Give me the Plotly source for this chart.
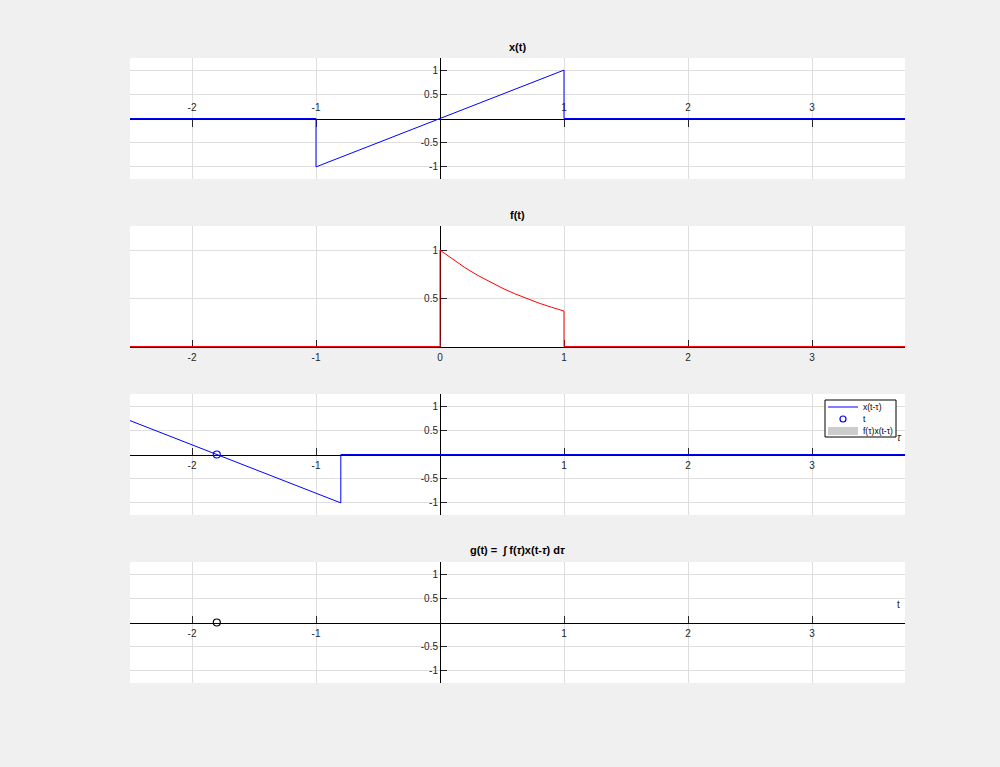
import plotly.graph_objects as go

# ---- data ----
t_x = [-2.5, -1.0, -1.0, 1.0, 1.0, 3.75]
x_vals = [0, 0, -1, 1, 0, 0]

t_f = [-2.5, 0.0, 0.0, 0.1, 0.2, 0.3, 0.4, 0.5, 0.6, 0.7, 0.8, 0.9, 1.0, 1.0, 3.75]
f_vals = [0, 0, 1.0, 0.905, 0.819, 0.741, 0.670, 0.607, 0.549, 0.497, 0.449, 0.407, 0.368, 0, 0]

t_now = -1.8
tau_shift = [-2.5, -0.8, -0.8, 3.75]
x_shift_vals = [0.7, -1.0, 0, 0]
prod_tau = [-2.5, -0.8, 0.0, 1.0, 3.75]
prod_vals = [0, 0, 0, 0, 0]
g_t = []
g_vals = []

x_ticks = [-2, -1, 1, 2, 3]
x_ticks_f = [-2, -1, 0, 1, 2, 3]
y_ticks = [-1, -0.5, 0.5, 1]
y_ticks_f = [0.5, 1]

legend_labels = ["x(t-τ)", "t", "f(τ)x(t-τ)"]

# ---- layout geometry ----
W, H = 1000, 767
XL, XR = 130, 905
xrange_ = [-2.5, 3.75]
panels = [(58, 179), (226, 347), (394, 515), (562, 683)]
yranges = [[-1.25, 1.25], [-0.005, 1.25], [-1.25, 1.25], [-1.25, 1.25]]

font = "Liberation Sans, Arial, Helvetica, sans-serif"
txt = "#262626"
grid = "#dedede"

fig = go.Figure()

def py(p):
    return 1 - p / H

def px(p):
    return p / W

x0_paper = (XL + (0 - xrange_[0]) / (xrange_[1] - xrange_[0]) * (XR - XL)) / W

layout = dict(
    width=W, height=H, margin=dict(l=0, r=0, t=0, b=0),
    paper_bgcolor="#f0f0f0", plot_bgcolor="white",
    font=dict(family=font, size=10, color=txt),
    showlegend=False,
)

for i, ((top, bot), yr) in enumerate(zip(panels, yranges)):
    n = "" if i == 0 else str(i + 1)
    dom_y = [py(bot), py(top)]
    y0_px = top + (yr[1] - 0) / (yr[1] - yr[0]) * (bot - top)
    xpos = py(y0_px)
    xt = x_ticks_f if i == 1 else x_ticks
    yt = y_ticks_f if i == 1 else y_ticks
    layout["xaxis" + n] = dict(
        domain=[XL / W, XR / W], range=xrange_, anchor="free", position=max(0, min(1, xpos)),
        side="top" if i == 0 else "bottom",
        showline=True, linecolor="#000000", linewidth=1, layer="below traces",
        ticks="inside", ticklen=7, tickcolor="#262626", tickwidth=1,
        tickvals=xt, ticktext=[str(v) for v in xt],
        ticklabelstandoff=4 if i == 0 else 1,
        showgrid=True, gridcolor=grid, gridwidth=1, zeroline=False,
        tickfont=dict(size=10, color=txt), fixedrange=True,
    )
    layout["yaxis" + n] = dict(
        domain=dom_y, range=yr, anchor="free", position=x0_paper, side="left",
        showline=True, linecolor="#000000", linewidth=1, layer="below traces",
        ticks="inside", ticklen=6, tickcolor="#262626", tickwidth=1,
        tickvals=yt, ticktext=[("%g" % v) for v in yt],
        showgrid=True, gridcolor=grid, gridwidth=1, zeroline=False,
        tickfont=dict(size=10, color=txt), fixedrange=True,
    )

fig.add_trace(go.Scatter(x=t_x, y=x_vals, mode="lines", line=dict(color="#0000ff", width=1),
                         xaxis="x", yaxis="y", name="x(t)"))
fig.add_trace(go.Scatter(x=t_f, y=f_vals, mode="lines", line=dict(color="#ff0000", width=1),
                         xaxis="x2", yaxis="y2", name="f(t)"))
fig.add_trace(go.Scatter(x=prod_tau, y=prod_vals, mode="lines", fill="tozeroy",
                         fillcolor="#cccccc", line=dict(width=0, color="#cccccc"),
                         xaxis="x3", yaxis="y3", name=legend_labels[2]))
fig.add_trace(go.Scatter(x=tau_shift, y=x_shift_vals, mode="lines", line=dict(color="#0000ff", width=1),
                         xaxis="x3", yaxis="y3", name=legend_labels[0]))
fig.add_trace(go.Scatter(x=[t_now], y=[0], mode="markers",
                         marker=dict(symbol="circle-open", color="#0000ff", size=7, line=dict(width=1.2)),
                         xaxis="x3", yaxis="y3", name=legend_labels[1]))
fig.add_trace(go.Scatter(x=g_t, y=g_vals, mode="lines", line=dict(color="#000000", width=1),
                         xaxis="x4", yaxis="y4", name="g(t)"))
fig.add_trace(go.Scatter(x=[t_now], y=[0], mode="markers",
                         marker=dict(symbol="circle-open", color="#000000", size=7, line=dict(width=1.2)),
                         xaxis="x4", yaxis="y4", name="t"))

annotations = []
titles = ["<b>x(t)</b>", "<b>f(t)</b>", None, "<b>g(t) =  ∫ f(<i>τ</i>)x(t-<i>τ</i>) d<i>τ</i></b>"]
for (top, bot), ttl in zip(panels, titles):
    if ttl:
        annotations.append(dict(text=ttl, x=(XL + XR) / 2 / W, y=py(top), xref="paper", yref="paper",
                                xanchor="center", yanchor="bottom", yshift=3, showarrow=False,
                                font=dict(size=11, color="#000000", family=font)))
annotations.append(dict(text="<i>τ</i>", x=px(899), y=py(437), xref="paper", yref="paper",
                        xanchor="center", yanchor="middle", showarrow=False, font=dict(size=10, color=txt)))
annotations.append(dict(text="t", x=px(898), y=py(604), xref="paper", yref="paper",
                        xanchor="center", yanchor="middle", showarrow=False, font=dict(size=10, color=txt)))

# ---- legend box (MATLAB-style, compact) ----
LX0, LY0, LX1, LY1 = 825, 400, 896, 437
rows = [407, 419, 431]
shapes = [
    dict(type="rect", xref="paper", yref="paper", x0=px(LX0), x1=px(LX1), y0=py(LY1), y1=py(LY0),
         fillcolor="white", line=dict(color="#000000", width=1), layer="above"),
    dict(type="line", xref="paper", yref="paper", x0=px(828), x1=px(858), y0=py(rows[0]), y1=py(rows[0]),
         line=dict(color="#0000ff", width=1), layer="above"),
    dict(type="circle", xref="paper", yref="paper", x0=px(840), x1=px(846), y0=py(rows[1] + 3), y1=py(rows[1] - 3),
         line=dict(color="#0000ff", width=1.2), fillcolor="rgba(0,0,0,0)", layer="above"),
    dict(type="rect", xref="paper", yref="paper", x0=px(828), x1=px(858), y0=py(rows[2] + 4), y1=py(rows[2] - 4),
         line=dict(width=0), fillcolor="#cccccc", layer="above"),
]
for r, lab in zip(rows, legend_labels):
    annotations.append(dict(text=lab, x=px(861), y=py(r), xref="paper", yref="paper",
                            xanchor="left", yanchor="middle", showarrow=False,
                            font=dict(size=8.5, color="#000000", family=font)))

layout["annotations"] = annotations
layout["shapes"] = shapes

fig.update_layout(**layout)
fig.write_html("out.html")
